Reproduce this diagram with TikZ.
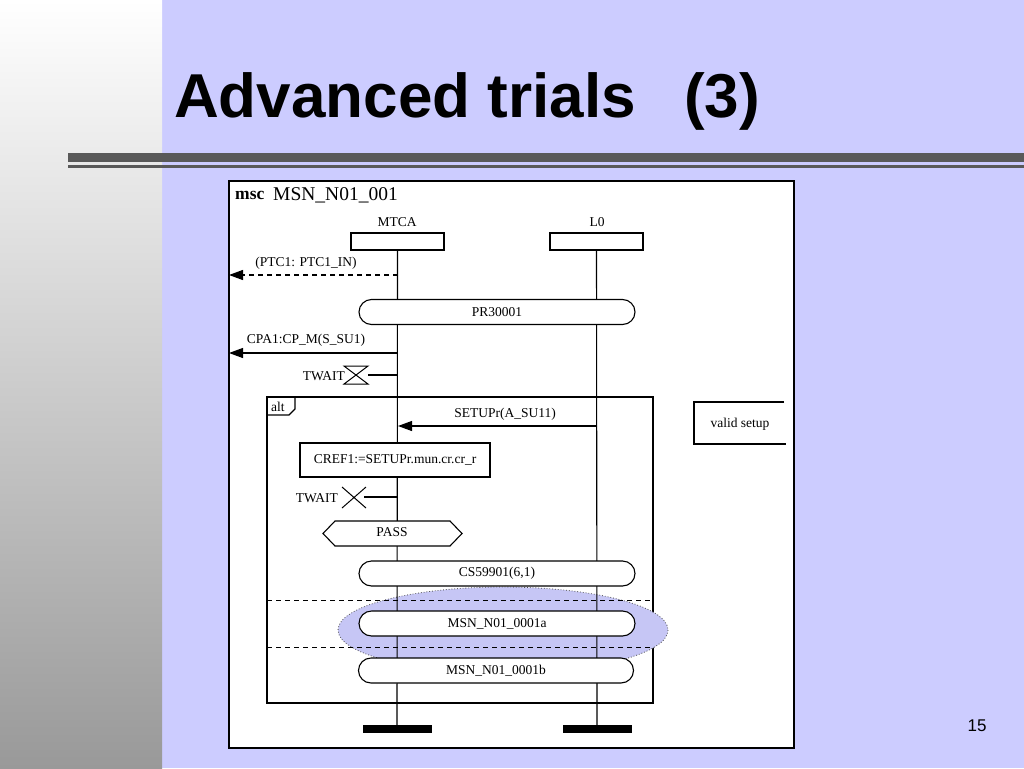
\documentclass[tikz,border=0pt]{standalone}
\usepackage{fontspec}
\setmainfont{Liberation Serif}
\newfontfamily\arialf{Liberation Sans}
\usetikzlibrary{arrows.meta,shapes.misc}
\definecolor{lav}{RGB}{204,204,255}
\definecolor{ellc}{RGB}{198,198,245}
\definecolor{barc}{RGB}{89,89,89}
\definecolor{grayb}{RGB}{153,153,153}
\begin{document}
\begin{tikzpicture}[x=1pt,y=-1pt,
  every node/.style={font=\fontsize{13.5}{15}\selectfont},
  ln/.style={line width=1.1pt},
  headbox/.style={draw,ln,fill=white,minimum width=93pt,minimum height=17pt,inner sep=0pt},
  refbox/.style={rounded rectangle,draw,ln,fill=white,minimum width=276pt,minimum height=25pt,inner sep=0pt},
  msg/.style={ln,-{Triangle[length=14pt,width=10pt]}},
  sepline/.style={line width=1pt,dash pattern=on 5pt off 4pt},
  endbar/.style={fill=black,draw=none,minimum width=69pt,minimum height=8pt,inner sep=0pt}
]
\useasboundingbox (0,0) rectangle (1024,768);
\fill[lav] (0,0) rectangle (1024,768);
\shade[top color=white,bottom color=grayb] (0,0) rectangle (162,768);
\fill[barc] (68,153) rectangle (1024,162);
\fill[barc] (68,165) rectangle (1024,168);
\node[anchor=base west,inner sep=0pt,font=\arialf\bfseries\fontsize{62}{70}\selectfont] (title) at (174,117) {Advanced trials};
\node[anchor=base west,inner sep=0pt,font=\arialf\bfseries\fontsize{62}{70}\selectfont] (titlen) at (684,117) {(3)};
\node[font=\arialf\fontsize{17}{19}\selectfont] (pgno) at (977,726) {15};
% msc frame
\draw[ln,fill=white] (229,181) rectangle (794,748);
\node[anchor=base west,inner sep=0pt,font=\bfseries\fontsize{17.5}{19}\selectfont] (msckw) at (235,199) {msc};
\node[anchor=base west,inner sep=0pt,font=\fontsize{19.5}{21}\selectfont] (mscname) at (273,200) {MSN\_N01\_001};
% alt frame
\draw[ln] (267,397) rectangle (653,703);
\draw[ln] (267,415) -- (289,415) -- (295,409) -- (295,397);
\node[anchor=base west,inner sep=0pt] (altkw) at (271,411) {alt};
% ellipse
\draw[fill=ellc,draw=black!70,dotted,line width=0.8pt] (503,630) ellipse [x radius=165, y radius=43];
% dashed separators
\coordinate (s1l) at (267,600); \coordinate (s1r) at (653,600);
\coordinate (s2l) at (267,647); \coordinate (s2r) at (653,647);
\draw[sepline] (s1l) -- (s1r);
\draw[sepline] (s2l) -- (s2r);
% instances
\node[headbox] (mtca) at (397.5,241.5) {};
\node[headbox] (lzero) at (596.5,241.5) {};
\node (mtcal) at (397,222) {MTCA};
\node (lzerol) at (597,222) {L0};
\node[endbar] (mtcaend) at (397,729) {};
\node[endbar] (lzeroend) at (597,729) {};
\draw[ln] (mtca.south) -- (mtcaend.north);
\draw[ln] (lzero.south) -- (lzeroend.north);
% PTC1 message
\coordinate (m1s) at (398,275); \coordinate (m1e) at (229,275);
\draw[msg,dash pattern=on 5pt off 4pt] (m1s) -- (m1e);
\node (m1l) at (306,263) {(PTC1: PTC1\_IN)};
% PR30001
\node[refbox] (pr) at (497,312) {PR30001};
% CPA1
\coordinate (m2s) at (398,353); \coordinate (m2e) at (229,353);
\draw[msg] (m2s) -- (m2e);
\node (m2l) at (306,340) {CPA1:CP\_M(S\_SU1)};
% timer set
\coordinate (t1m) at (398,375); \coordinate (t1h) at (368,375);
\draw[ln] (t1m) -- (t1h);
\draw[line width=1pt] (344,366) -- (368,366) -- (344,384) -- (368,384) -- cycle;
\node[anchor=east,inner sep=0pt] (t1l) at (345,376) {TWAIT};
% SETUPr
\coordinate (m3s) at (597,426); \coordinate (m3e) at (398,426);
\draw[msg] (m3s) -- (m3e);
\node (m3l) at (505,414) {SETUPr(A\_SU11)};
% comment
\draw[ln] (784,402) -- (694,402) -- (694,444) -- (786,444);
\node (vs) at (740,424) {valid setup};
% CREF1 action
\node[draw,ln,fill=white,minimum width=190pt,minimum height=34pt,inner sep=0pt] (cref) at (395,460) {CREF1:=SETUPr.mun.cr.cr\_r};
% timeout
\coordinate (t2m) at (398,497); \coordinate (t2x) at (364,497);
\draw[ln] (t2m) -- (t2x);
\draw[line width=1pt] (342,487) -- (366,508) (366,487) -- (342,508);
\node[anchor=east,inner sep=0pt] (t2l) at (338,498) {TWAIT};
% PASS
\draw[ln,fill=white] (323,533.5) -- (335,521) -- (450,521) -- (462,533.5) -- (450,546) -- (335,546) -- cycle;
\node (pass) at (392,532) {PASS};
% references
\node[refbox] (cs) at (497,573.5) {CS59901(6,1)};
\node[refbox] (ra) at (497,623.5) {MSN\_N01\_0001a};
\node[refbox,minimum width=275pt] (rb) at (496,670.5) {MSN\_N01\_0001b};
\end{tikzpicture}
\end{document}
